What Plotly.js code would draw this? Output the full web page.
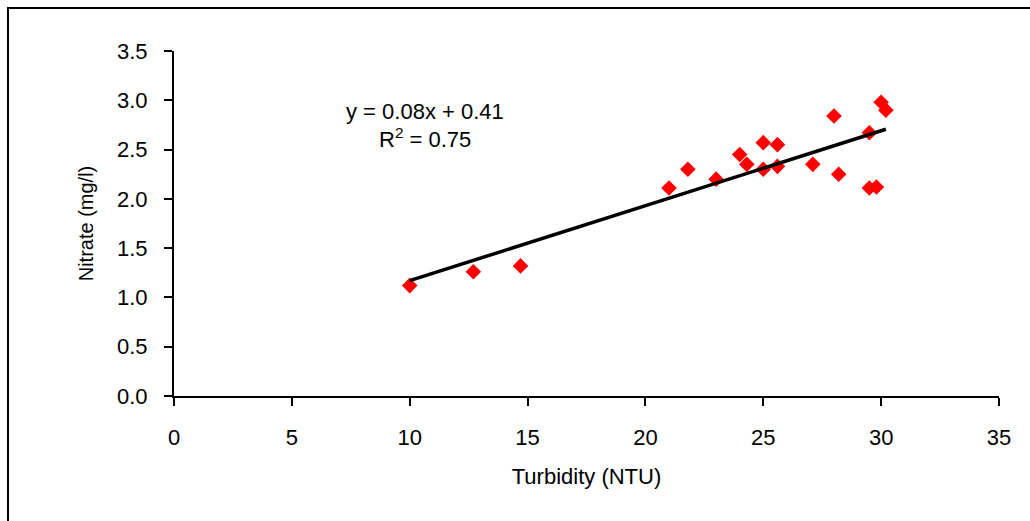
<!DOCTYPE html>
<html>
<head>
<meta charset="utf-8">
<script src="https://cdn.plot.ly/plotly-3.0.1.min.js"></script>
<style>
  html, body { margin: 0; padding: 0; background: #fff; }
  #frame { position: absolute; left: 7px; top: 7px; width: 1100px; height: 600px;
           border-left: 2px solid #000; border-top: 2px solid #000; box-sizing: border-box; }
  #chart { position: absolute; left: 0; top: 0; width: 1030px; height: 521px; }
</style>
</head>
<body>
<div id="frame"></div>
<div id="chart"></div>
<script>
// Data
const turbidity = [10.0, 12.7, 14.7, 21.0, 21.8, 23.0, 24.0, 24.3, 25.0, 25.0,
                   25.6, 25.6, 27.1, 28.0, 28.2, 29.5, 29.5, 29.8, 30.0, 30.2];
const nitrate   = [1.12, 1.26, 1.32, 2.11, 2.30, 2.20, 2.45, 2.35, 2.57, 2.30,
                   2.55, 2.33, 2.35, 2.84, 2.25, 2.67, 2.11, 2.12, 2.98, 2.90];
const xTicks = [0, 5, 10, 15, 20, 25, 30, 35];
const yTicks = [0, 0.5, 1.0, 1.5, 2.0, 2.5, 3.0, 3.5];
const equationText = 'y = 0.08x + 0.41';
const r2Text = 'R<sup>2</sup> = 0.75';

// Linear least-squares trendline from the data
const n = turbidity.length;
const mx = turbidity.reduce((a, b) => a + b, 0) / n;
const my = nitrate.reduce((a, b) => a + b, 0) / n;
let sxy = 0, sxx = 0;
for (let i = 0; i < n; i++) {
  sxy += (turbidity[i] - mx) * (nitrate[i] - my);
  sxx += (turbidity[i] - mx) ** 2;
}
const slope = sxy / sxx;
const intercept = my - slope * mx;
const xMin = Math.min(...turbidity), xMax = Math.max(...turbidity);
const trendX = [xMin, xMax];
const trendY = trendX.map(x => intercept + slope * x);

const font = 'Arial, "Liberation Sans", sans-serif';

const traces = [
  {
    x: turbidity, y: nitrate, type: 'scatter', mode: 'markers',
    marker: { symbol: 'diamond', size: 12, color: '#ff0000', line: { width: 0 } },
    hoverinfo: 'x+y', showlegend: false
  },
  {
    x: trendX, y: trendY, type: 'scatter', mode: 'lines',
    line: { color: '#000', width: 3.5 }, hoverinfo: 'skip', showlegend: false
  }
];

const layout = {
  width: 1030, height: 521,
  margin: { l: 174, r: 31, t: 51, b: 125, pad: 0 },
  paper_bgcolor: 'rgba(0,0,0,0)', plot_bgcolor: 'rgba(0,0,0,0)',
  font: { family: font, color: '#000' },
  showlegend: false,
  xaxis: {
    range: [0, 35], tickmode: 'array', tickvals: xTicks, ticktext: xTicks.map(String),
    showgrid: false, zeroline: false, showline: true, linecolor: '#000', linewidth: 2,
    ticks: 'outside', ticklen: 8, tickwidth: 2, tickcolor: '#000',
    tickfont: { family: font, size: 22, color: '#000' },
    ticklabelstandoff: 13,
    title: { text: 'Turbidity (NTU)', font: { family: font, size: 22, color: '#000' }, standoff: 19 },
    fixedrange: true
  },
  yaxis: {
    range: [0, 3.5], tickmode: 'array', tickvals: yTicks, ticktext: yTicks.map(v => v.toFixed(1)),
    showgrid: false, zeroline: false, showline: true, linecolor: '#000', linewidth: 2,
    ticks: 'outside', ticklen: 8, tickwidth: 2, tickcolor: '#000',
    tickfont: { family: font, size: 22, color: '#000' },
    ticklabelstandoff: 12,
    title: { text: 'Nitrate (mg/l)', font: { family: font, size: 20, color: '#000' }, standoff: 18 },
    fixedrange: true
  },
  annotations: [
    { x: 10.65, y: 2.89, xref: 'x', yref: 'y', text: equationText, showarrow: false,
      font: { family: font, size: 22, color: '#000' }, xanchor: 'center', yanchor: 'middle' },
    { x: 10.65, y: 2.62, xref: 'x', yref: 'y', text: r2Text, showarrow: false,
      font: { family: font, size: 22, color: '#000' }, xanchor: 'center', yanchor: 'middle' }
  ]
};

Plotly.newPlot('chart', traces, layout, { displayModeBar: false, staticPlot: true });
</script>
</body>
</html>
